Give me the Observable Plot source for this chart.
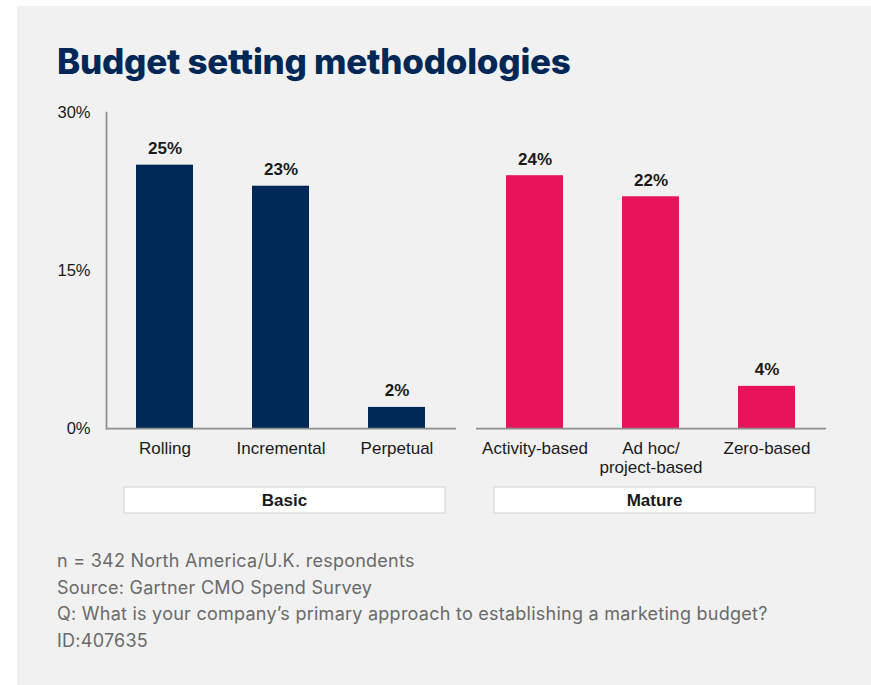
<!DOCTYPE html>
<html>
<head>
<meta charset="utf-8">
<script src="https://cdn.jsdelivr.net/npm/d3@7"></script>
<script src="https://cdn.jsdelivr.net/npm/@observablehq/plot@0.6"></script>
<style>
  html, body { margin: 0; padding: 0; background: #ffffff; }
  body { width: 871px; height: 685px; position: relative; overflow: hidden; font-family: "Liberation Sans", Arial, sans-serif; }
  #panel { position: absolute; left: 17px; top: 6px; width: 854px; height: 679px; background: #f1f1f1; }
  #title { position: absolute; left: 57px; top: 44px; margin: 0; font-family: Inter, "Open Sans", sans-serif; font-weight: 800; font-size: 35px; line-height: 1; color: #002856; letter-spacing: -0.25px; white-space: nowrap; }
  #chart { position: absolute; left: 0; top: 92px; }
  #caption { position: absolute; left: 57px; top: 548px; font-family: Inter, "Open Sans", sans-serif; font-size: 18px; letter-spacing: 0.25px; line-height: 26.7px; color: #6a6a6a; white-space: nowrap; }
</style>
</head>
<body>
<div id="panel"></div>
<h1 id="title">Budget setting methodologies</h1>
<div id="chart"></div>
<div id="caption">
  <div>n = 342 North America/U.K. respondents</div>
  <div>Source: Gartner CMO Spend Survey</div>
  <div>Q: What is your company’s primary approach to establishing a marketing budget?</div>
  <div>ID:407635</div>
</div>
<script>
const groupNames = ["Basic", "Mature"];
const groups = ["Basic", "Basic", "Basic", "Mature", "Mature", "Mature"];
const categories = ["Rolling", "Incremental", "Perpetual", "Activity-based", "Ad hoc/\nproject-based", "Zero-based"];
const values = [25, 23, 2, 24, 22, 4];
const yTicks = [0, 15, 30];
const groupColors = ["#002856", "#e8135a"];

const data = categories.map((c, i) => ({
  category: c,
  group: groups[i],
  value: values[i],
  pos: groups.slice(0, i).filter(g => g === groups[i]).length
}));

const axisGray = "#8e8e8e";
const textDark = "#1a1a1a";

const chart = Plot.plot({
  width: 871,
  height: 426,
  marginTop: 20,
  marginBottom: 90,
  marginLeft: 106,
  marginRight: 45,
  style: { background: "transparent", fontFamily: "'Liberation Sans', Arial, sans-serif", color: textDark },
  fx: { domain: groupNames, paddingInner: 20 / 370, paddingOuter: 0, axis: null, label: null },
  x: { domain: [0, 1, 2], type: "band", paddingInner: 0.507, paddingOuter: 0.2535, axis: null, label: null },
  y: { domain: [0, 30], axis: null, label: null },
  color: { domain: groupNames, range: groupColors },
  marks: [
    Plot.rect(groupNames, { fx: d => d, fill: "white", stroke: "#d2d2d2", strokeWidth: 1, insetTop: 375, insetBottom: -85, insetLeft: 18, insetRight: 11 }),
    Plot.text(groupNames, { fx: d => d, text: d => d, frameAnchor: "bottom", dy: 77, dx: 3, fontWeight: "bold", fontSize: 17, fill: textDark }),
    Plot.barY(data, { x: "pos", fx: "group", y: "value", fill: "group" }),
    Plot.text(data, { x: "pos", fx: "group", y: "value", text: d => d.value + "%", dy: -11, lineAnchor: "bottom", fontWeight: "bold", fontSize: 17, fill: textDark }),
    Plot.text(data, { x: "pos", fx: "group", text: "category", frameAnchor: "bottom", dy: 12, lineAnchor: "top", lineHeight: 1.12, fontSize: 17, fill: textDark }),
    Plot.axisY({ ticks: yTicks, tickFormat: d => d + "%", tickSize: 0, tickPadding: 16, fontSize: 16.5, fill: textDark, label: null }),
    Plot.frame({ anchor: "left", facetAnchor: "left", stroke: axisGray, strokeWidth: 1.75 }),
    Plot.ruleY([0], { stroke: axisGray, strokeWidth: 1.75 })
  ]
});
document.getElementById("chart").appendChild(chart);
</script>
</body>
</html>
